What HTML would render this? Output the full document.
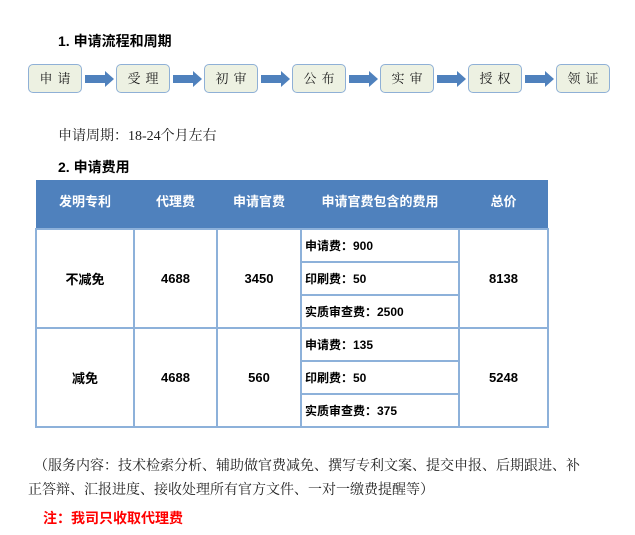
<!DOCTYPE html>
<html><head><meta charset="utf-8"><style>
body{margin:0;width:635px;height:535px;background:#fff;position:relative;overflow:hidden;font-family:"Liberation Sans","Noto Sans CJK SC",sans-serif;}
.a{position:absolute;white-space:nowrap;}
.h{font-weight:bold;font-size:14px;color:#000;}
.box{position:absolute;top:64px;width:54px;height:29px;border:1.5px solid #8fb0d6;border-radius:5px;background:#edf1e2;box-sizing:border-box;text-align:center;line-height:27px;font-family:"Liberation Serif","Noto Serif CJK SC",serif;font-size:13px;letter-spacing:5px;text-indent:5px;color:#222;}
.ser{font-family:"Liberation Serif","Noto Serif CJK SC",serif;font-size:14px;color:#222;}
table{position:absolute;left:35px;top:180px;border-collapse:collapse;table-layout:fixed;width:512px;}
td{border:2px solid #8db1da;text-align:center;font-weight:bold;font-size:13px;padding:0;}
th{background:#4f81bd;color:#fff;font-size:13px;height:40px;border:none;padding:0 0 8px 0;}
.s{text-align:left;height:31px;padding-left:3px;font-size:12px;}
</style></head><body>
<div class="a h" style="left:58px;top:31px;">1. 申请流程和周期</div>
<div class="box" style="left:28px;">申请</div>
<div class="box" style="left:116px;">受理</div>
<div class="box" style="left:204px;">初审</div>
<div class="box" style="left:292px;">公布</div>
<div class="box" style="left:380px;">实审</div>
<div class="box" style="left:468px;">授权</div>
<div class="box" style="left:556px;">领证</div>
<svg style="left:0;top:0;position:absolute" width="635" height="120">
<g fill="#4f81bd">
<polygon points="85,75 105,75 105,71 114,79 105,87 105,83 85,83"/>
<polygon points="173,75 193,75 193,71 202,79 193,87 193,83 173,83"/>
<polygon points="261,75 281,75 281,71 290,79 281,87 281,83 261,83"/>
<polygon points="349,75 369,75 369,71 378,79 369,87 369,83 349,83"/>
<polygon points="437,75 457,75 457,71 466,79 457,87 457,83 437,83"/>
<polygon points="525,75 545,75 545,71 554,79 545,87 545,83 525,83"/>
</g></svg>
<div class="a ser" style="left:58px;top:125px;">申请周期：18-24个月左右</div>
<div class="a h" style="left:58px;top:157px;">2. 申请费用</div>
<table>
<colgroup><col style="width:98px"><col style="width:83px"><col style="width:84px"><col style="width:158px"><col style="width:89px"></colgroup>
<tr><th>发明专利</th><th>代理费</th><th>申请官费</th><th>申请官费包含的费用</th><th>总价</th></tr>
<tr><td rowspan="3">不减免</td><td rowspan="3">4688</td><td rowspan="3">3450</td><td class="s">申请费：900</td><td rowspan="3">8138</td></tr>
<tr><td class="s">印刷费：50</td></tr>
<tr><td class="s">实质审查费：2500</td></tr>
<tr><td rowspan="3">减免</td><td rowspan="3">4688</td><td rowspan="3">560</td><td class="s">申请费：135</td><td rowspan="3">5248</td></tr>
<tr><td class="s">印刷费：50</td></tr>
<tr><td class="s">实质审查费：375</td></tr>
</table>
<div class="a ser" style="left:34px;top:455px;">（服务内容：技术检索分析、辅助做官费减免、撰写专利文案、提交申报、后期跟进、补</div>
<div class="a ser" style="left:28px;top:479px;">正答辩、汇报进度、接收处理所有官方文件、一对一缴费提醒等）</div>
<div class="a h" style="left:43px;top:508px;color:#f00;">注：我司只收取代理费</div>
</body></html>
